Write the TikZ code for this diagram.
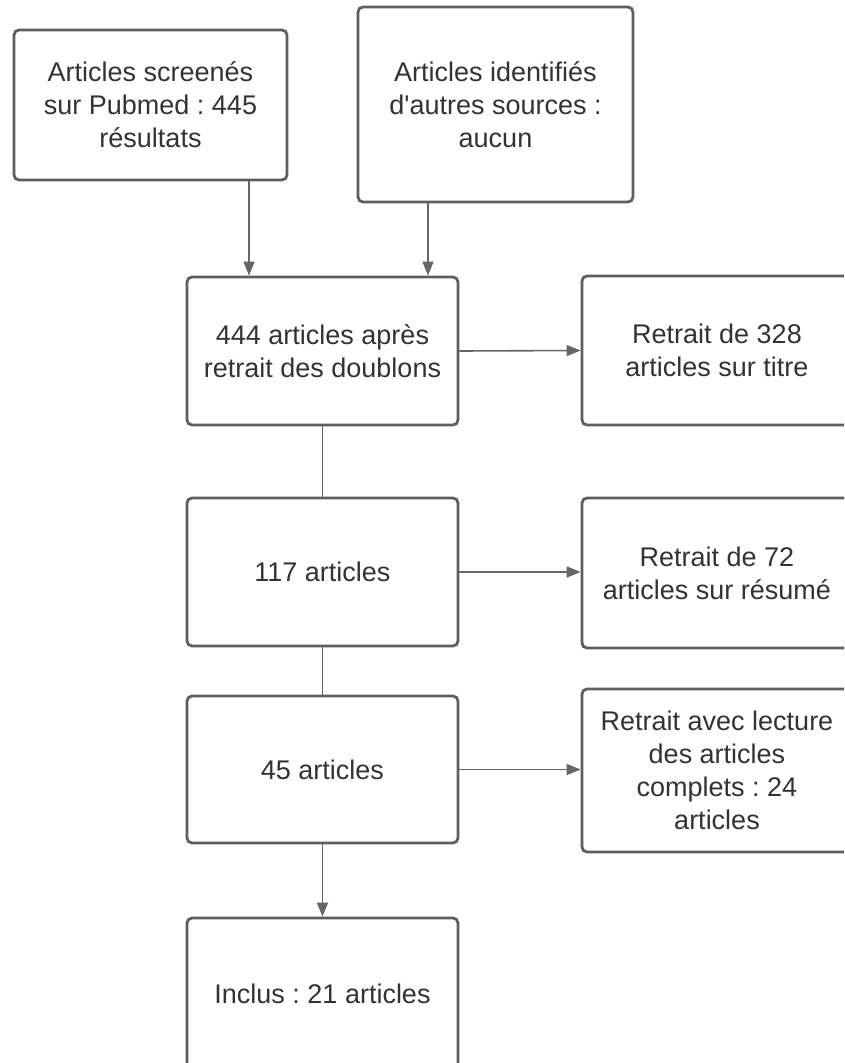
\documentclass[tikz,border=0pt]{standalone}
\usepackage{fontspec}
\setmainfont{Liberation Sans}
\usetikzlibrary{arrows.meta}
\definecolor{boxline}{HTML}{5E5E5E}
\definecolor{txt}{HTML}{333333}
\definecolor{connc}{HTML}{666666}
\frenchspacing
\begin{document}
\begin{tikzpicture}[x=1pt,y=-1pt,
  box/.style={draw=boxline, line width=2.8pt, rounded corners=5pt, fill=white,
    align=center, text=txt, font=\fontsize{27}{33}\selectfont, inner sep=0pt},
  link/.style={draw=connc, line width=1.6pt},
  arr/.style={link, -{Triangle[length=14pt,width=11pt]}}]
\useasboundingbox (0,0) rectangle (844,1063);
\clip (0,0) rectangle (844,1063);
\fill[white] (0,0) rectangle (844,1063);
\node[box, minimum width=273pt, minimum height=150pt] (b1) at (150.5,105)
  {Articles screenés\\sur Pubmed : 445\\résultats};
\node[box, minimum width=275pt, minimum height=195pt] (b2) at (495.5,104.5)
  {Articles identifiés\\d\textquotesingle autres sources :\\aucun};
\node[box, minimum width=271pt, minimum height=148pt] (b3) at (322.5,351)
  {444 articles après\\retrait des doublons};
\node[box, minimum width=270pt, minimum height=149pt] (b4) at (717,350.5)
  {Retrait de 328\\articles sur titre};
\node[box, minimum width=271pt, minimum height=148pt] (b5) at (322.5,572)
  {117 articles};
\node[box, minimum width=270pt, minimum height=150pt] (b6) at (717,573)
  {Retrait de 72\\articles sur résumé};
\node[box, minimum width=271pt, minimum height=147pt] (b7) at (322.5,769.5)
  {45 articles};
\node[box, minimum width=270pt, minimum height=163pt] (b8) at (717,770.5)
  {Retrait avec lecture\\des articles\\complets : 24\\articles};
\node[box, minimum width=271pt, minimum height=152pt] (b9) at (322.5,994)
  {Inclus : 21 articles};
\coordinate (c1) at (249,0);
\coordinate (c2) at (428,0);
\draw[arr] (b1.south -| c1) -- (b3.north -| c1);
\draw[arr] (b2.south -| c2) -- (b3.north -| c2);
\draw[arr] (b3.east) -- (b4.west);
\draw[link] (b3.south) -- (b5.north);
\draw[arr] (b5.east) -- (b6.west |- b5.east);
\draw[link] (b5.south) -- (b7.north);
\draw[arr] (b7.east) -- (b8.west |- b7.east);
\draw[arr] (b7.south) -- (b9.north);
\end{tikzpicture}
\end{document}
